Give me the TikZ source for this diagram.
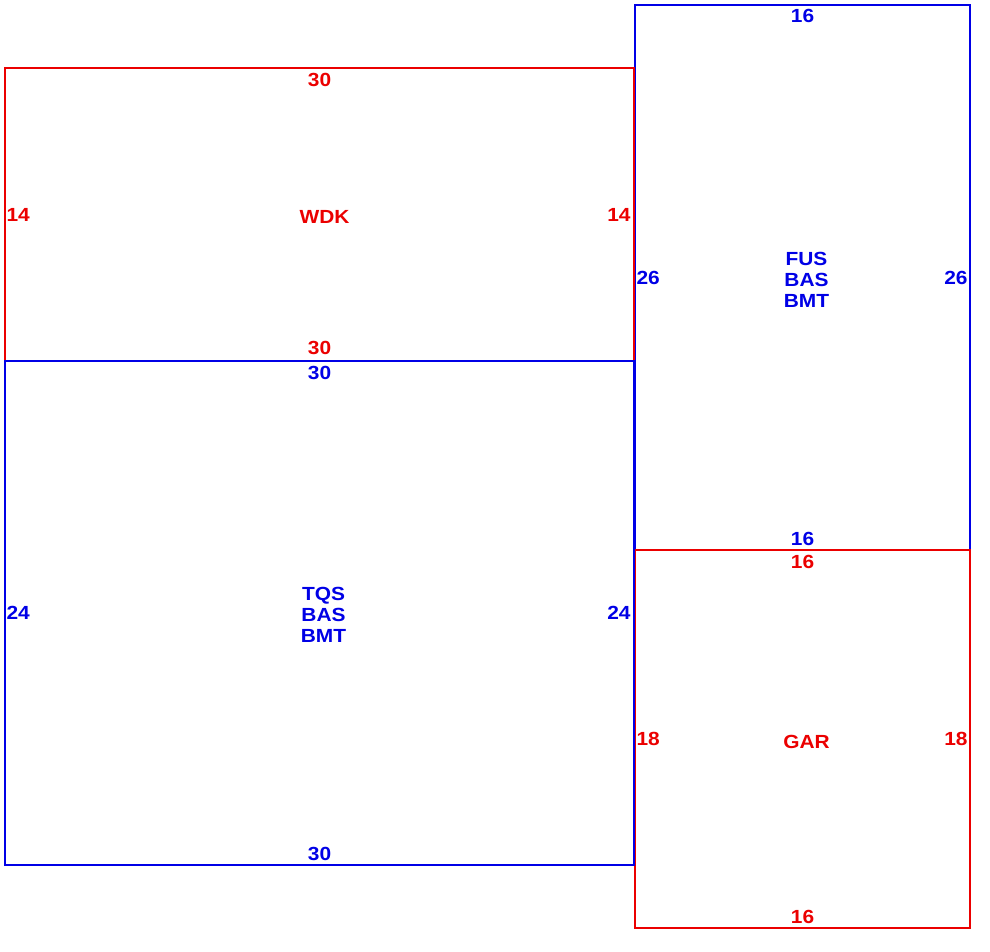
\documentclass[tikz,border=0pt]{standalone}
\usepackage{fontspec}
\setmainfont{Liberation Sans}[FakeStretch=1.1]
\usepackage{xcolor}
\usepackage{tikz}
\usetikzlibrary{positioning}
\definecolor{roomred}{RGB}{235,0,0}
\definecolor{roomblue}{RGB}{0,0,230}
\tikzset{
  room/.style={draw=#1, line width=1.4pt, inner sep=0pt},
  roomname/.style={text=#1, inner sep=0pt, align=center,
    font=\fontsize{19}{21}\selectfont\bfseries},
  dim/.style={text=#1, inner sep=0pt, font=\fontsize{19}{21}\selectfont\bfseries}
}

\begin{document}
\begin{tikzpicture}[x=1pt,y=-1pt]
\useasboundingbox (0,0) rectangle (990,952);
% rooms
\node[room=roomblue, minimum width=335pt, minimum height=545pt] (fus) at (802.5,277.5) {};
\node[room=roomred, minimum width=335pt, minimum height=378pt] (gar) at (802.5,739) {};
\node[room=roomred, minimum width=629pt, minimum height=293pt] (wdk) at (319.5,214.5) {};
\node[room=roomblue, minimum width=629pt, minimum height=504pt] (tqs) at (319.5,613) {};

% room names
\node[roomname=roomred] (wdkname) at ([shift={(5,2)}]wdk.center) {WDK};
\node[roomname=roomblue] (tqsname) at ([shift={(4,2)}]tqs.center) {TQS\\BAS\\BMT};
\node[roomname=roomblue] (fusname) at ([shift={(4,2)}]fus.center) {FUS\\BAS\\BMT};
\node[roomname=roomred] (garname) at ([shift={(4,3)}]gar.center) {GAR};

% sizes
\node[dim=roomred, below=6pt of wdk.north] (wdkn) {30};
\node[dim=roomred, above=7pt of wdk.south] (wdks) {30};
\node[dim=roomred, right=2pt of wdk.west] (wdkw) {14};
\node[dim=roomred, left=4pt of wdk.east] (wdke) {14};

\node[dim=roomblue, below=6pt of tqs.north] (tqsn) {30};
\node[dim=roomblue, above=5pt of tqs.south] (tqss) {30};
\node[dim=roomblue, right=2pt of tqs.west] (tqsw) {24};
\node[dim=roomblue, left=4pt of tqs.east] (tqse) {24};

\node[dim=roomblue, below=5pt of fus.north] (fusn) {16};
\node[dim=roomblue, above=5pt of fus.south] (fuss) {16};
\node[dim=roomblue, right=2pt of fus.west] (fusw) {26};
\node[dim=roomblue, left=3pt of fus.east] (fuse) {26};

\node[dim=roomred, below=6pt of gar.north] (garn) {16};
\node[dim=roomred, above=5pt of gar.south] (gars) {16};
\node[dim=roomred, right=2pt of gar.west] (garw) {18};
\node[dim=roomred, left=3pt of gar.east] (gare) {18};
\end{tikzpicture}
\end{document}
